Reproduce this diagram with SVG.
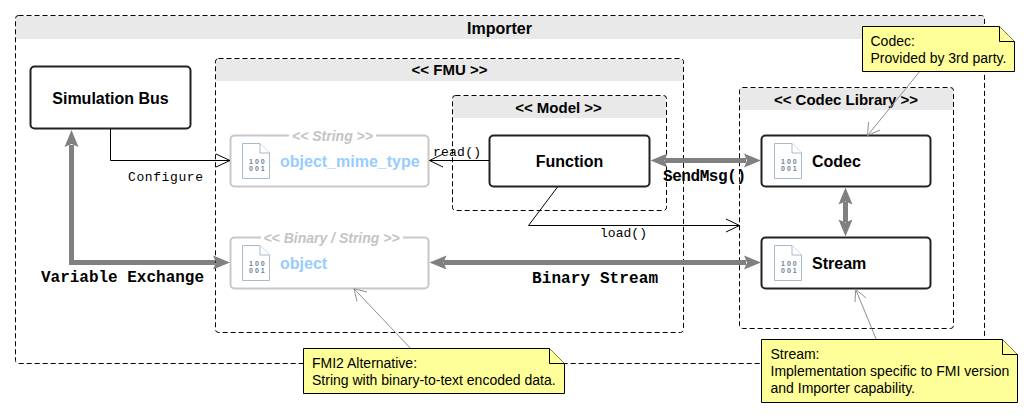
<svg xmlns="http://www.w3.org/2000/svg" width="1033" height="418" viewBox="0 0 1033 418">
<style>
text{font-family:"Liberation Sans",Arial,sans-serif;fill:#000}
.frame{fill:none;stroke:#000;stroke-width:1;stroke-dasharray:5 3}
.head{fill:#e9e9e9;stroke:none}
.ft{font-weight:bold;font-size:15px;text-anchor:middle}
.box{fill:#fff;stroke:#222;stroke-width:2}
.ghost{fill:#fff;stroke:#c8c8c8;stroke-width:2}
.bt{font-weight:bold;font-size:16px}
.gt{font-weight:bold;font-size:16px;fill:#99ccff}
.st{font-weight:bold;font-style:italic;font-size:14px;fill:#c4c4c4;text-anchor:middle}
.note{fill:#ffff99;stroke:#000;stroke-width:1}
.nt{font-size:14px}
.mono{font-family:"Liberation Mono",monospace;font-size:13px}
.monob{font-family:"Liberation Mono",monospace;font-size:16px;font-weight:bold}
.thin{fill:none;stroke:#000;stroke-width:1}
.thick{fill:none;stroke:#808080;stroke-width:5}
.call{fill:none;stroke:#909090;stroke-width:1}
.hd{fill:#808080;stroke:none}
.ic{fill:#fff;stroke:#a9b9cc;stroke-width:1}
.ib{font-size:7px;fill:#6d8199;font-weight:bold;letter-spacing:2px}
</style>
<defs>
<g id="icon">
<path class="ic" d="M0.500 0.500H18L27.500 10V35.500H0.500Z"/>
<path class="ic" d="M18 0.500V10H27.500"/>
<text class="ib" x="7" y="21">100</text>
<text class="ib" x="7" y="28">001</text>
</g>
</defs>

<g id="importer">
<rect x="16" y="16" width="968" height="23" class="head"/>
<rect x="15.500" y="15.500" width="969" height="348" rx="3" class="frame"/>
<text x="499.500" y="34" text-anchor="middle" class="bt">Importer</text>
</g>
<g id="fmu">
<rect x="216" y="59" width="467" height="22" class="head"/>
<rect x="215.500" y="58.500" width="468" height="274" rx="3" class="frame"/>
<text x="449.500" y="75" class="ft">&lt;&lt; FMU &gt;&gt;</text>
</g>
<g id="model">
<rect x="453" y="96" width="213" height="22" class="head"/>
<rect x="452.500" y="95.500" width="214" height="115" rx="3" class="frame"/>
<text x="558.500" y="113" class="ft">&lt;&lt; Model &gt;&gt;</text>
</g>
<g id="codec-library">
<rect x="740" y="88" width="213" height="22" class="head"/>
<rect x="739.500" y="87.500" width="214" height="241" rx="3" class="frame"/>
<text x="846" y="105" class="ft">&lt;&lt; Codec Library &gt;&gt;</text>
</g>

<g id="simulation-bus">
<rect x="30.500" y="66.500" width="160" height="62" rx="4" class="box"/>
<text x="110.500" y="104" text-anchor="middle" class="bt">Simulation Bus</text>
</g>
<g id="object-mime-type">
<rect x="230.500" y="135.500" width="198" height="51" rx="4" class="ghost"/>
<rect x="289" y="130" width="87" height="12" fill="#fff"/>
<text x="332.500" y="141" class="st">&lt;&lt; String &gt;&gt;</text>
<use href="#icon" x="242" y="143"/>
<text x="280" y="167" class="gt">object_mime_type</text>
</g>
<g id="object">
<rect x="230.500" y="237.500" width="198" height="51" rx="4" class="ghost"/>
<rect x="261" y="232" width="142" height="12" fill="#fff"/>
<text x="331.500" y="243" class="st">&lt;&lt; Binary / String &gt;&gt;</text>
<use href="#icon" x="242" y="245"/>
<text x="280" y="269" class="gt">object</text>
</g>
<g id="function">
<rect x="489.500" y="135.500" width="160" height="51" rx="4" class="box"/>
<text x="569.500" y="167" text-anchor="middle" class="bt">Function</text>
</g>
<g id="codec">
<rect x="761.500" y="135.500" width="169" height="51" rx="4" class="box"/>
<use href="#icon" x="774" y="143"/>
<text x="812" y="167" class="bt">Codec</text>
</g>
<g id="stream">
<rect x="761.500" y="237.500" width="169" height="51" rx="4" class="box"/>
<use href="#icon" x="774" y="245"/>
<text x="812" y="269" class="bt">Stream</text>
</g>

<g id="connectors">
<path class="thin" d="M110.500 129V160.500H230M216 154L230 160.500L216 167"/>
<path class="thin" d="M489 160.500H429.500M443 154L429.500 160.500L443 167"/>
<path class="thin" d="M557.500 187L528.500 225.500H739.500M726 219L739.500 225.500L726 232"/>
<path class="thick" d="M71.500 145V262.500H215"/>
<path class="hd" d="M71.500 130L78.500 147L71.500 144L64.500 147Z"/>
<path class="hd" d="M230 262.500L213 255.500L216 262.500L213 269.500Z"/>
<path class="thick" d="M665 160.500H746"/>
<path class="hd" d="M650.500 160.500L667.500 153.500L664.500 160.500L667.500 167.500Z"/>
<path class="hd" d="M761 160.500L744 153.500L747 160.500L744 167.500Z"/>
<path class="thick" d="M444 262.500H746"/>
<path class="hd" d="M429.500 262.500L446.500 255.500L443.500 262.500L446.500 269.500Z"/>
<path class="hd" d="M761 262.500L744 255.500L747 262.500L744 269.500Z"/>
<path class="thick" d="M845.500 202V222"/>
<path class="hd" d="M845.500 187.500L852.500 204.500L845.500 201.500L838.500 204.500Z"/>
<path class="hd" d="M845.500 236.500L852.500 219.500L845.500 222.500L838.500 219.500Z"/>
<path class="call" d="M919.700 71.500L867.500 135.500M868.500 122L867.500 135.500L880 130"/>
<path class="call" d="M410.700 348.500L354 288.700M357 301.500L354 288.700L367 292"/>
<path class="call" d="M876.300 339.500L855.700 289.300M855 302L855.700 289.300L866 298"/>
<text x="128" y="181" class="mono" textLength="75">Configure</text>
<text x="433" y="156" class="mono" textLength="48">read()</text>
<text x="600" y="237" class="mono" textLength="47">load()</text>
<text x="41" y="282" class="monob" textLength="163">Variable Exchange</text>
<text x="532" y="283" class="monob" textLength="126">Binary Stream</text>
<text x="663" y="181" class="monob" textLength="83">SendMsg()</text>
</g>

<g id="note-codec">
<path class="note" d="M862.500 26.500H999.500L1014.500 41.500V71.500H862.500Z"/>
<path class="note" d="M999.500 26.500V41.500H1014.500"/>
<text x="870.500" y="46" class="nt">Codec:</text>
<text x="870.500" y="63" class="nt">Provided by 3rd party.</text>
</g>
<g id="note-fmi2">
<path class="note" d="M303.500 348.500H549.500L564.500 363.500V393.500H303.500Z"/>
<path class="note" d="M549.500 348.500V363.500H564.500"/>
<text x="312" y="368" class="nt">FMI2 Alternative:</text>
<text x="312" y="385" class="nt">String with binary-to-text encoded data.</text>
</g>
<g id="note-stream">
<path class="note" d="M761.500 339.500H1002.500L1017.500 354.500V402.500H761.500Z"/>
<path class="note" d="M1002.500 339.500V354.500H1017.500"/>
<text x="770.500" y="359" class="nt">Stream:</text>
<text x="770.500" y="376" class="nt">Implementation specific to FMI version</text>
<text x="770.500" y="393" class="nt">and Importer capability.</text>
</g>
</svg>
